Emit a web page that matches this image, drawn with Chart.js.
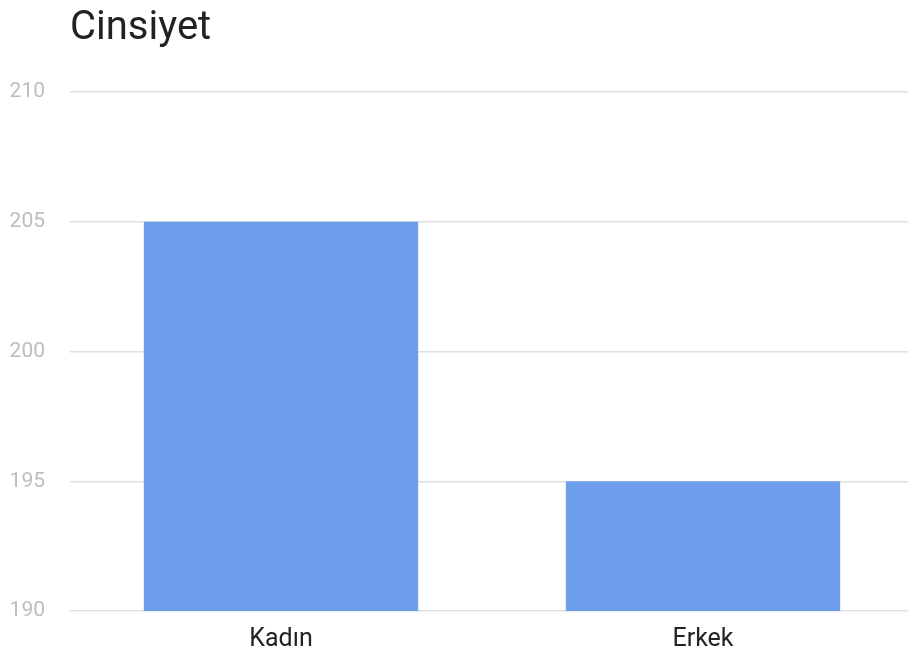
<!DOCTYPE html>
<html>
<head>
<meta charset="utf-8">
<script src="https://cdn.jsdelivr.net/npm/chart.js@4"></script>
<style>
  html, body { margin: 0; padding: 0; background: #fff; overflow: hidden; }
  /* plot runs slightly past the right edge of the window, like the original */
  #wrap { width: 914px; height: 659px; }
</style>
</head>
<body>
<div id="wrap"><canvas id="chart-bar"></canvas></div>
<script>
// chart data
const chartTitle = 'Cinsiyet';
const categories = ['Kadın', 'Erkek'];
const counts = [205, 195];
const yTicks = [190, 195, 200, 205, 210];

// draw the title lined up with the plot area, like the original
const titlePlugin = {
  id: 'leftTitle',
  afterDraw(chart) {
    const ctx = chart.ctx;
    ctx.save();
    ctx.font = '40px Roboto';
    ctx.fillStyle = '#222222';
    ctx.textBaseline = 'alphabetic';
    ctx.textAlign = 'left';
    ctx.fillText(chartTitle, chart.chartArea.left, 39);
    ctx.restore();
  }
};

const data = {
  labels: categories,
  datasets: [
    {
      label: chartTitle,
      data: counts,
      backgroundColor: '#6d9eeb',
      borderWidth: 0,
      barPercentage: 0.65,
      categoryPercentage: 1,
    }
  ]
};

const config = {
  type: 'bar',
  data: data,
  options: {
    responsive: true,
    maintainAspectRatio: false,
    animation: false,
    layout: {
      padding: { top: 92, right: 0, bottom: 0, left: 0 }
    },
    plugins: {
      legend: { display: false },
      title: { display: false },
      tooltip: { enabled: false }
    },
    scales: {
      x: {
        afterFit(scale) { scale.height = 48; },
        grid: { display: false, drawTicks: false },
        border: { display: false },
        ticks: {
          color: '#222222',
          font: { family: 'Roboto', size: 25 },
          padding: 14
        }
      },
      y: {
        min: yTicks[0],
        max: yTicks[yTicks.length - 1],
        afterFit(scale) { scale.width = 70; },
        afterBuildTicks(scale) { scale.ticks = yTicks.map(v => ({ value: v })); },
        grid: { color: '#e0e0e0', lineWidth: 1.5, drawTicks: false },
        border: { display: false },
        ticks: {
          color: '#bdbdbd',
          font: { family: 'Roboto', size: 21 },
          padding: 25
        }
      }
    }
  },
  plugins: [titlePlugin]
};

const chartCanvas = document.getElementById('chart-bar').getContext('2d');
new Chart(chartCanvas, config);
</script>
</body>
</html>
